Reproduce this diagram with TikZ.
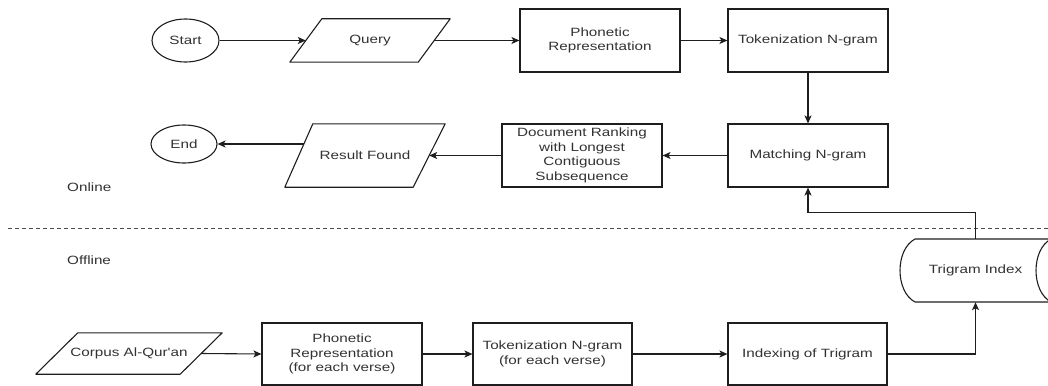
\documentclass[tikz,border=0pt]{standalone}
\usepackage{fontspec}
\usetikzlibrary{arrows.meta,calc,shapes.geometric}
\newfontfamily\dfont[FakeStretch=1.27]{Liberation Sans}
\definecolor{txt}{RGB}{50,50,50}
\definecolor{ln}{RGB}{30,30,30}
\begin{document}
\begin{tikzpicture}[x=1pt,y=-1pt,
  every node/.style={font=\dfont\fontsize{12}{14.5}\selectfont, text=txt, align=center, inner sep=0pt},
  box/.style={draw=ln, line width=1.1pt, minimum width=160pt, minimum height=63pt},
  oval/.style={draw=ln, line width=1.1pt, ellipse, minimum width=67pt, minimum height=43pt},
  pbox/.style={minimum width=#1, minimum height=63pt},
  shp/.style={draw=ln, line width=1.1pt, line join=round},
  arr/.style={draw=ln, line width=1.1pt, -{Stealth[length=8pt,width=7pt,inset=2pt]}},
  lbl/.style={anchor=west}
]
\useasboundingbox (0,0) rectangle (1048,385);

% ---- online row 1
\node[oval] (start) at (185.5,40.5) {Start};
\node[pbox=160pt, minimum height=43pt] (q) at (370,40.5) {Query};
\draw[shp] (q.south west) -- ([xshift=-32pt]q.south east) -- (q.north east) -- ([xshift=32pt]q.north west) -- cycle;
\node[box] (pr) at (600,40.5) {Phonetic\\Representation};
\node[box] (tk) at (808,40.5) {Tokenization N-gram};

% ---- online row 2
\node[box] (mn) at (808,155.5) {Matching N-gram};
\node[box] (dr) at (582,155.5) {Document Ranking\\with Longest\\Contiguous\\Subsequence};
\node[pbox=160pt] (rf) at (365,155.5) {Result Found};
\draw[shp] (rf.south west) -- ([xshift=-32pt]rf.south east) -- (rf.north east) -- ([xshift=28pt]rf.north west) -- cycle;
\node[oval, minimum width=66pt, minimum height=38pt] (end) at (184,144) {End};

\node[lbl] (on) at (67,187) {Online};
\node[lbl] (off) at (67,260) {Offline};
\coordinate (dl) at (8,228);
\coordinate (dr2) at (1048,228);
\draw[ln!80, line width=0.9pt, dash pattern=on 4pt off 3pt] (dl) -- (dr2);

% ---- offline row
\node[pbox=186pt, minimum height=41pt] (cq) at (129,353.5) {Corpus Al-Qur'an};
\draw[shp] (cq.south west) -- ([xshift=-42pt]cq.south east) -- (cq.north east) -- ([xshift=42pt]cq.north west) -- cycle;
\node[box, minimum height=62pt] (pv) at (342,354) {Phonetic\\Representation\\(for each verse)};
\node[box, minimum width=159pt, minimum height=62pt] (tv) at (552.5,354) {Tokenization N-gram\\(for each verse)};
\node[box, minimum width=159pt, minimum height=62pt] (ix) at (807.5,354) {Indexing of Trigram};

% stored data shape
\node[pbox=151pt] (ti) at (975.5,270.5) {Trigram Index};
\begin{scope}[shift={(ti.center)}]
  \draw[shp] (-60.5,-31.5) -- (75.5,-31.5) .. controls (55.5,-21) and (55.5,21) .. (75.5,31.5) -- (-60.5,31.5)
     .. controls (-80.5,21) and (-80.5,-21) .. cycle;
\end{scope}

% ---- connectors
\draw[arr] (start.east) -- ([xshift=16pt]q.west);
\draw[arr] ([xshift=-16pt]q.east) -- (pr.west);
\draw[arr] (pr.east) -- (tk.west);
\draw[arr] (tk.south) -- (mn.north);
\draw[arr] (mn.west) -- (dr.east);
\draw[arr] (dr.west) -- ([xshift=-16pt]rf.east);
\draw[arr] ([xshift=-61pt,yshift=11.5pt]rf.center) -- (end.east);
\draw[arr] ([xshift=-21pt]cq.east) -- (pv.west);
\draw[arr] (pv.east) -- (tv.west);
\draw[arr] (tv.east) -- (ix.west);
\draw[arr] (ix.east) -| (ti.south);
\draw[arr] (ti.north) -- ++(0,-26) -| (mn.south);
\end{tikzpicture}
\end{document}
